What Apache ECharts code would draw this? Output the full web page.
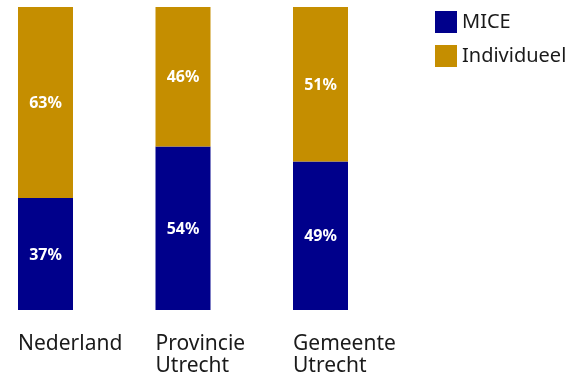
<!DOCTYPE html>
<html>
<head>
<meta charset="utf-8">
<script src="https://cdn.jsdelivr.net/npm/echarts@6/dist/echarts.min.js"></script>
<style>
  html, body { margin: 0; padding: 0; background: #ffffff; }
  #chart { width: 573px; height: 377px; }
</style>
</head>
<body>
<div id="chart"></div>
<script>
// Share of overnight stays by segment (percent)
const categories = ['Nederland', 'Provincie\nUtrecht', 'Gemeente\nUtrecht'];
const seriesNames = ['MICE', 'Individueel'];
const miceValues = [37, 54, 49];
const individueelValues = [63, 46, 51];

const FONT = '"Noto Sans", sans-serif';
const COLORS = ['#00008B', '#C58E00'];

const chart = echarts.init(document.getElementById('chart'), null, { renderer: 'canvas' });

const valueLabel = {
  show: true,
  position: 'inside',
  offset: [0, 1],
  formatter: p => p.value + '%',
  color: '#ffffff',
  fontFamily: FONT,
  fontWeight: 'bold',
  fontSize: 16
};

chart.setOption({
  animation: false,
  backgroundColor: '#ffffff',
  grid: { left: 45.5, right: 252.5, top: 7, bottom: 65 },
  legend: {
    orient: 'vertical',
    left: 430,
    top: 6,
    itemWidth: 22,
    itemHeight: 22,
    itemGap: 12,
    icon: 'rect',
    textStyle: { fontFamily: FONT, fontSize: 20, color: '#1a1a1a', padding: [4, 0, 0, 0] },
    data: seriesNames
  },
  xAxis: {
    type: 'category',
    data: categories,
    boundaryGap: false,
    axisLine: { show: false },
    axisTick: { show: false },
    axisLabel: {
      align: 'left',
      verticalAlign: 'top',
      margin: 23,
      padding: [0, 0, 0, -27.5],
      fontFamily: FONT,
      fontSize: 21,
      lineHeight: 22,
      color: '#1a1a1a'
    }
  },
  yAxis: {
    type: 'value',
    min: 0,
    max: 100,
    show: false,
    splitLine: { show: false }
  },
  series: [
    {
      name: seriesNames[0],
      type: 'bar',
      stack: 'total',
      barWidth: 55,
      data: miceValues,
      itemStyle: { color: COLORS[0] },
      label: valueLabel
    },
    {
      name: seriesNames[1],
      type: 'bar',
      stack: 'total',
      barWidth: 55,
      data: individueelValues,
      itemStyle: { color: COLORS[1] },
      label: valueLabel
    }
  ]
});
</script>
</body>
</html>
